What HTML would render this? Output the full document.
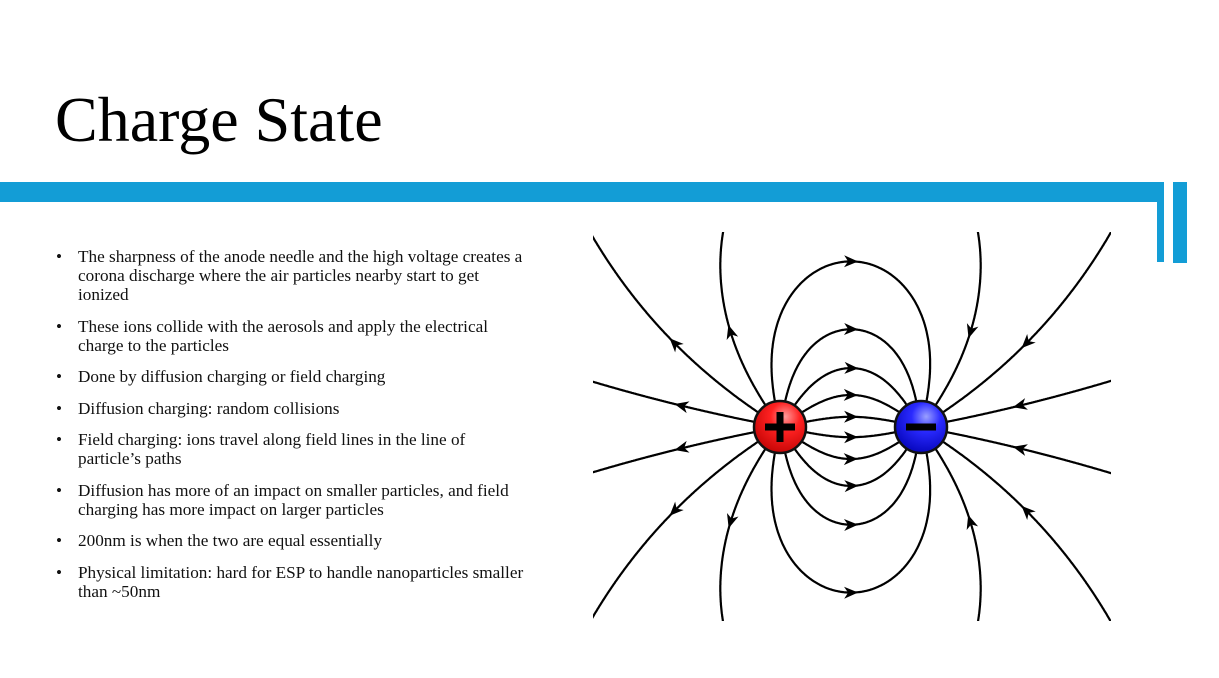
<!DOCTYPE html>
<html><head><meta charset="utf-8"><style>
body{margin:0;width:1219px;height:678px;background:#fff;overflow:hidden;position:relative;font-family:"Liberation Serif",serif;}
#title{position:absolute;left:55px;top:82px;font-size:64px;color:#000;margin:0;font-weight:normal;line-height:76px;}
.bar{position:absolute;background:#139dd6;}
ul{position:absolute;left:56px;top:247px;margin:0;padding:0;list-style:none;width:471px;font-size:17.2px;line-height:19px;color:#111;}
li{position:relative;padding-left:22px;margin-bottom:12.5px;}
li:before{content:"•";position:absolute;left:0;}
svg{position:absolute;left:0;top:0;}
</style></head><body>
<h1 id="title">Charge State</h1>
<div class="bar" style="left:0;top:182px;width:1164px;height:20px"></div>
<div class="bar" style="left:1157px;top:182px;width:7px;height:80px"></div>
<div class="bar" style="left:1173px;top:182px;width:14px;height:81px"></div>
<ul>
<li>The sharpness of the anode needle and the high voltage creates a corona discharge where the air particles nearby start to get ionized</li>
<li>These ions collide with the aerosols and apply the electrical charge to the particles</li>
<li>Done by diffusion charging or field charging</li>
<li>Diffusion charging: random collisions</li>
<li>Field charging: ions travel along field lines in the line of particle’s paths</li>
<li>Diffusion has more of an impact on smaller particles, and field charging has more impact on larger particles</li>
<li>200nm is when the two are equal essentially</li>
<li>Physical limitation: hard for ESP to handle nanoparticles smaller than ~50nm</li>
</ul>
<svg id="dia" width="1219" height="678">
<defs>
<clipPath id="cp"><rect x="593" y="232" width="518" height="389"/></clipPath>
<radialGradient id="gr" cx="0.6" cy="0.3" r="0.8"><stop offset="0" stop-color="#ff9a9a"/><stop offset="0.35" stop-color="#f22"/><stop offset="1" stop-color="#b00"/></radialGradient>
<radialGradient id="gb" cx="0.6" cy="0.3" r="0.8"><stop offset="0" stop-color="#9aa0ff"/><stop offset="0.35" stop-color="#2a2aff"/><stop offset="1" stop-color="#0000b0"/></radialGradient>
</defs>
<g id="lines" clip-path="url(#cp)"></g>
</svg>
<script>
const chargeX=[780,921];
const chargeY=[427,427];
const chargeQ=[1,-1];
const startAngles=[11.25,33.75,56.25,78.75,101.25,123.75,146.25,168.75,191.25,213.75,236.25,258.75,281.25,303.75,326.25,348.75];
const R=26, box={x0:593,y0:232,x1:1111,y1:621};
const NS='http://www.w3.org/2000/svg';
const g=document.getElementById('lines');
function field(x,y){let ex=0,ey=0;for(let i=0;i<chargeX.length;i++){const dx=x-chargeX[i],dy=y-chargeY[i],r=Math.hypot(dx,dy);const r3=r*r*r;ex+=chargeQ[i]*dx/r3;ey+=chargeQ[i]*dy/r3;}return[ex,ey];}
function trace(a){const t=a*Math.PI/180;let x=chargeX[0]+R*Math.cos(t),y=chargeY[0]-R*Math.sin(t);const pts=[[x,y]];let end=false;
for(let k=0;k<3000;k++){const [ex,ey]=field(x,y);const m=Math.hypot(ex,ey);x+=ex/m;y+=ey/m;pts.push([x,y]);
if(Math.hypot(x-chargeX[1],y-chargeY[1])<R){end=true;break;}
if(x<box.x0-5||x>box.x1+5||y<box.y0-5||y>box.y1+5)break;}
return{pts,end};}
function drawLine(pts,name){const p=document.createElementNS(NS,'path');
p.setAttribute('d','M'+pts.map(q=>q[0].toFixed(1)+','+q[1].toFixed(1)).join('L'));
p.setAttribute('fill','none');p.setAttribute('stroke','#000');p.setAttribute('stroke-width','2.2');


g.appendChild(p);}
function arrow(pts,idx,dir,name){idx=Math.max(2,Math.min(pts.length-3,idx));const a=pts[idx],b=pts[idx+dir*2];
const ang=Math.atan2(b[1]-a[1],b[0]-a[0])*180/Math.PI;const p=document.createElementNS(NS,'path');
p.setAttribute('d','M7,0 L-7,-6 L-3,0 L-7,6 Z');p.setAttribute('fill','#000');
p.setAttribute('transform','translate('+a[0].toFixed(1)+','+a[1].toFixed(1)+') rotate('+ang.toFixed(1)+')');


g.appendChild(p);}
const mid=(chargeX[0]+chargeX[1])/2;
startAngles.forEach((a,i)=>{const {pts,end}=trace(a);
drawLine(pts,'field-line-'+i);
if(end){arrow(pts,Math.floor(pts.length/2),1,'field-arrow-'+i);}
else{const inBox=pts.filter(q=>q[0]>=box.x0&&q[0]<=box.x1&&q[1]>=box.y0&&q[1]<=box.y1).length;
arrow(pts,Math.floor(inBox*0.45),1,'field-arrow-'+i);
const mp=pts.map(q=>[2*mid-q[0],q[1]]);drawLine(mp,'field-line-in-'+i);
arrow(mp,Math.floor(inBox*0.45),-1,'field-arrow-in-'+i);}});
const svg=document.getElementById('dia');
function ball(cx,fill,name,sign){const c=document.createElementNS(NS,'circle');c.setAttribute('cx',cx);c.setAttribute('cy',chargeY[0]);c.setAttribute('r',R);c.setAttribute('fill',fill);c.setAttribute('stroke','#111');c.setAttribute('stroke-width','2.5');


svg.appendChild(c);
const h=document.createElementNS(NS,'rect');h.setAttribute('x',cx-15);h.setAttribute('y',chargeY[0]-3.5);h.setAttribute('width',30);h.setAttribute('height',7);h.setAttribute('fill','#000');


svg.appendChild(h);
if(sign){const v=document.createElementNS(NS,'rect');v.setAttribute('x',cx-3.5);v.setAttribute('y',chargeY[0]-15);v.setAttribute('width',7);v.setAttribute('height',30);v.setAttribute('fill','#000');


svg.appendChild(v);}}
ball(chargeX[0],'url(#gr)','positive-charge',true);
ball(chargeX[1],'url(#gb)','negative-charge',false);
</script>
</body></html>
